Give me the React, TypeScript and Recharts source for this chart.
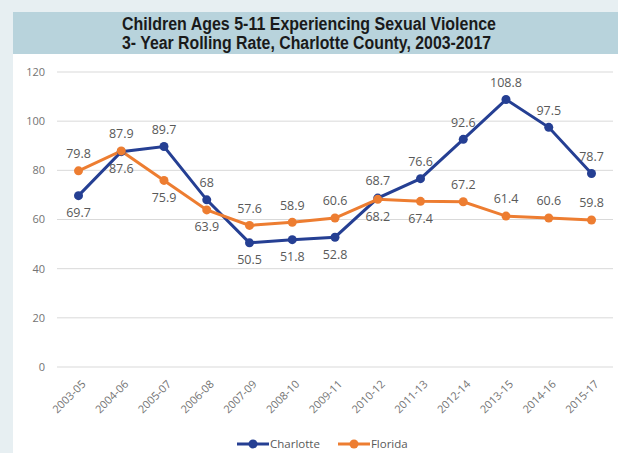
import React from "react";
import {
  CartesianGrid,
  Legend,
  Line,
  LineChart,
  XAxis,
  YAxis,
} from "recharts";

const periods = [
  "2003-05", "2004-06", "2005-07", "2006-08", "2007-09", "2008-10", "2009-11",
  "2010-12", "2011-13", "2012-14", "2013-15", "2014-16", "2015-17",
];
const charlotte = [69.7, 87.6, 89.7, 68, 50.5, 51.8, 52.8, 68.7, 76.6, 92.6, 108.8, 97.5, 78.7];
const florida = [79.8, 87.9, 75.9, 63.9, 57.6, 58.9, 60.6, 68.2, 67.4, 67.2, 61.4, 60.6, 59.8];
const yTicks = [0, 20, 40, 60, 80, 100, 120];

// which side of the point each data label sits on
const charlotteSide = ["below", "below", "above", "above", "below", "below", "below", "above", "above", "above", "above", "above", "above"];
const floridaSide = ["above", "above", "below", "below", "above", "above", "above", "below", "below", "above", "above", "above", "above"];

const titleLines = [
  "Children Ages 5-11 Experiencing Sexual Violence",
  "3- Year Rolling Rate, Charlotte County, 2003-2017",
];

const BLUE = "#253f93";
const ORANGE = "#ed7d31";
const TEXT = "#595959";
const TICK = "#737373";
const FONT = "'Open Sans', 'Noto Sans', sans-serif";

const data = periods.map((p, i) => ({ p, charlotte: charlotte[i], florida: florida[i] }));

function makeLabel(sides: string[]) {
  return (props: any) => {
    const { x, y, value, index } = props;
    const up = sides[index] === "above";
    return (
      <text
        x={x}
        y={up ? y - 17 : y + 17}
        dy="0.35em"
        textAnchor="middle"
        fontSize={12.5}
        fontFamily={FONT}
        fill={TEXT}
      >
        {value}
      </text>
    );
  };
}

function XTick({ x, y, payload }: any) {
  return (
    <g transform={`translate(${x + 5},${y + 7})`}>
      <text
        x={0}
        y={0}
        dy={4}
        textAnchor="end"
        transform="rotate(-45)"
        fontSize={11}
        fontFamily={FONT}
        fill={TICK}
      >
        {payload.value}
      </text>
    </g>
  );
}

function LegendContent() {
  const items = [
    { name: "Charlotte", color: BLUE },
    { name: "Florida", color: ORANGE },
  ];
  return (
    <div style={{ display: "flex", alignItems: "center", gap: 18 }}>
      {items.map((it) => (
        <div key={it.name} style={{ display: "flex", alignItems: "center" }}>
          <svg width={32} height={12}>
            <line x1={0} y1={6} x2={32} y2={6} stroke={it.color} strokeWidth={3} />
            <circle cx={16} cy={6} r={4.5} fill={it.color} />
          </svg>
          <span style={{ fontFamily: FONT, fontSize: 11.5, color: TEXT, marginLeft: 1 }}>{it.name}</span>
        </div>
      ))}
    </div>
  );
}

export default function App() {
  return (
    <div
      style={{
        position: "absolute",
        left: 0,
        top: 0,
        width: 618,
        height: 453,
        background: "#e7eff2",
        overflow: "hidden",
      }}
    >
      <div style={{ position: "absolute", left: 13, top: 12, width: 610, height: 445, background: "#ffffff" }} />
      <div style={{ position: "absolute", left: 13, top: 12, width: 610, height: 42, background: "#b8d3dc" }} />
      <svg width={618} height={60} style={{ position: "absolute", left: 0, top: 0 }}>
        {titleLines.map((t, i) => (
          <text
            key={i}
            x={122}
            y={30 + i * 19.3}
            fontSize={17.5}
            fontWeight="bold"
            fontFamily="'Liberation Sans Narrow', 'Arial Narrow', 'Liberation Sans', sans-serif"
            fill="#1a1a1a"
            textLength={i === 0 ? 374 : 369}
            lengthAdjust="spacingAndGlyphs"
          >
            {t}
          </text>
        ))}
      </svg>
      <div style={{ position: "absolute", left: 0, top: 0 }}>
        <LineChart
          width={618}
          height={453}
          data={data}
          margin={{ top: 72, right: 5, bottom: 36, left: 0 }}
        >
          <CartesianGrid vertical={false} stroke="#d9d9d9" strokeWidth={1} />
          <XAxis
            dataKey="p"
            interval={0}
            axisLine={false}
            tickLine={false}
            height={50}
            padding={{ left: 21.5, right: 21.5 }}
            tick={<XTick />}
          />
          <YAxis
            domain={[0, 120]}
            ticks={yTicks}
            width={57}
            axisLine={false}
            tickLine={false}
            tickSize={0}
            tickMargin={12}
            tick={{ fontSize: 11, fill: TICK, fontFamily: FONT }}
          />
          <Legend
            verticalAlign="middle"
            align="center"
            layout="horizontal"
            content={<LegendContent />}
            wrapperStyle={{ position: "absolute", left: 237, top: 436, width: "auto" }}
          />
          <Line
            dataKey="charlotte"
            name="Charlotte"
            stroke={BLUE}
            strokeWidth={3}
            dot={{ r: 4.5, fill: BLUE, stroke: BLUE, strokeWidth: 0 }}
            label={makeLabel(charlotteSide)}
            isAnimationActive={false}
          />
          <Line
            dataKey="florida"
            name="Florida"
            stroke={ORANGE}
            strokeWidth={3}
            dot={{ r: 4.5, fill: ORANGE, stroke: ORANGE, strokeWidth: 0 }}
            label={makeLabel(floridaSide)}
            isAnimationActive={false}
          />
        </LineChart>
      </div>
    </div>
  );
}
